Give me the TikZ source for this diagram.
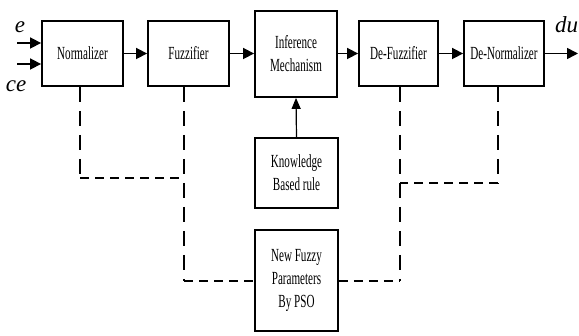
\documentclass[tikz,border=0pt]{standalone}
\usepackage{fontspec}
\setmainfont{Liberation Serif}
\newfontfamily\boxfont{Liberation Serif}[FakeStretch=0.6]
\usetikzlibrary{arrows.meta}
\tikzset{
  blk/.style={draw, line width=1.8pt, align=center, inner sep=0pt,
    font=\boxfont\fontsize{18.5}{23}\selectfont},
  arr/.style={line width=1.6pt, -{Triangle[length=11pt,width=11pt]}},
  vd/.style={line width=1.1pt, dash pattern=on 15pt off 9pt},
  hd/.style={line width=1.9pt, dash pattern=on 9pt off 6pt},
  sig/.style={font=\itshape\fontsize{23}{23}\selectfont, inner sep=0pt}
}
\begin{document}
\begin{tikzpicture}[x=1pt,y=-1pt]
\useasboundingbox (0,0) rectangle (579,336);
\node[blk, minimum width=81pt, minimum height=65pt] (norm) at (82.5,53.5) {Normalizer};
\node[blk, minimum width=81pt, minimum height=65pt] (fuzz) at (188.5,53.5) {Fuzzifier};
\node[blk, minimum width=82pt, minimum height=86pt] (inf) at (296,54) {Inference\\Mechanism};
\node[blk, minimum width=79pt, minimum height=65pt] (defuzz) at (398.5,53.5) {De-Fuzzifier};
\node[blk, minimum width=80pt, minimum height=65pt] (denorm) at (504,53.5) {De-Normalizer};
\node[blk, minimum width=83pt, minimum height=70pt] (know) at (296.5,173) {Knowledge\\Based rule};
\node[blk, minimum width=83pt, minimum height=101pt] (pso) at (296.5,280.5) {New Fuzzy\\Parameters\\By PSO};

\node[sig] (e) at (20,27) {e};
\node[sig] (ce) at (16,86) {ce};
\node[sig, anchor=west] (du) at (555,25) {du};

\coordinate (ein) at (17,43);
\coordinate (cein) at (17,64);
\coordinate (duout) at (578,53.5);
\draw[arr] (ein) -- (ein -| norm.west);
\draw[arr] (cein) -- (cein -| norm.west);
\draw[arr] (norm.east) -- (fuzz.west);
\draw[arr] (fuzz.east) -- (inf.west |- fuzz.east);
\draw[arr] (inf.east |- defuzz.west) -- (defuzz.west);
\draw[arr] (defuzz.east) -- (denorm.west);
\draw[arr] (denorm.east) -- (duout);
\draw[line width=1.2pt, -{Triangle[length=11pt,width=9pt]}] (know.north) -- (inf.south);

\coordinate (n1) at (80,178);
\coordinate (f1) at (184,178);
\coordinate (f2) at (184,281);
\coordinate (d1) at (400,183);
\coordinate (d2) at (400,281);
\coordinate (m1) at (498,183);
\draw[vd] (norm.south -| n1) -- (n1);
\draw[hd] (n1) -- (f1);
\draw[vd] (fuzz.south -| f1) -- (f2);
\draw[hd] (f2) -- (pso.west |- f2);
\draw[vd] (defuzz.south -| d1) -- (d2);
\draw[hd] (pso.east |- d2) -- (d2);
\draw[vd] (denorm.south -| m1) -- (m1);
\draw[hd] (m1) -- (d1);
\end{tikzpicture}
\end{document}
